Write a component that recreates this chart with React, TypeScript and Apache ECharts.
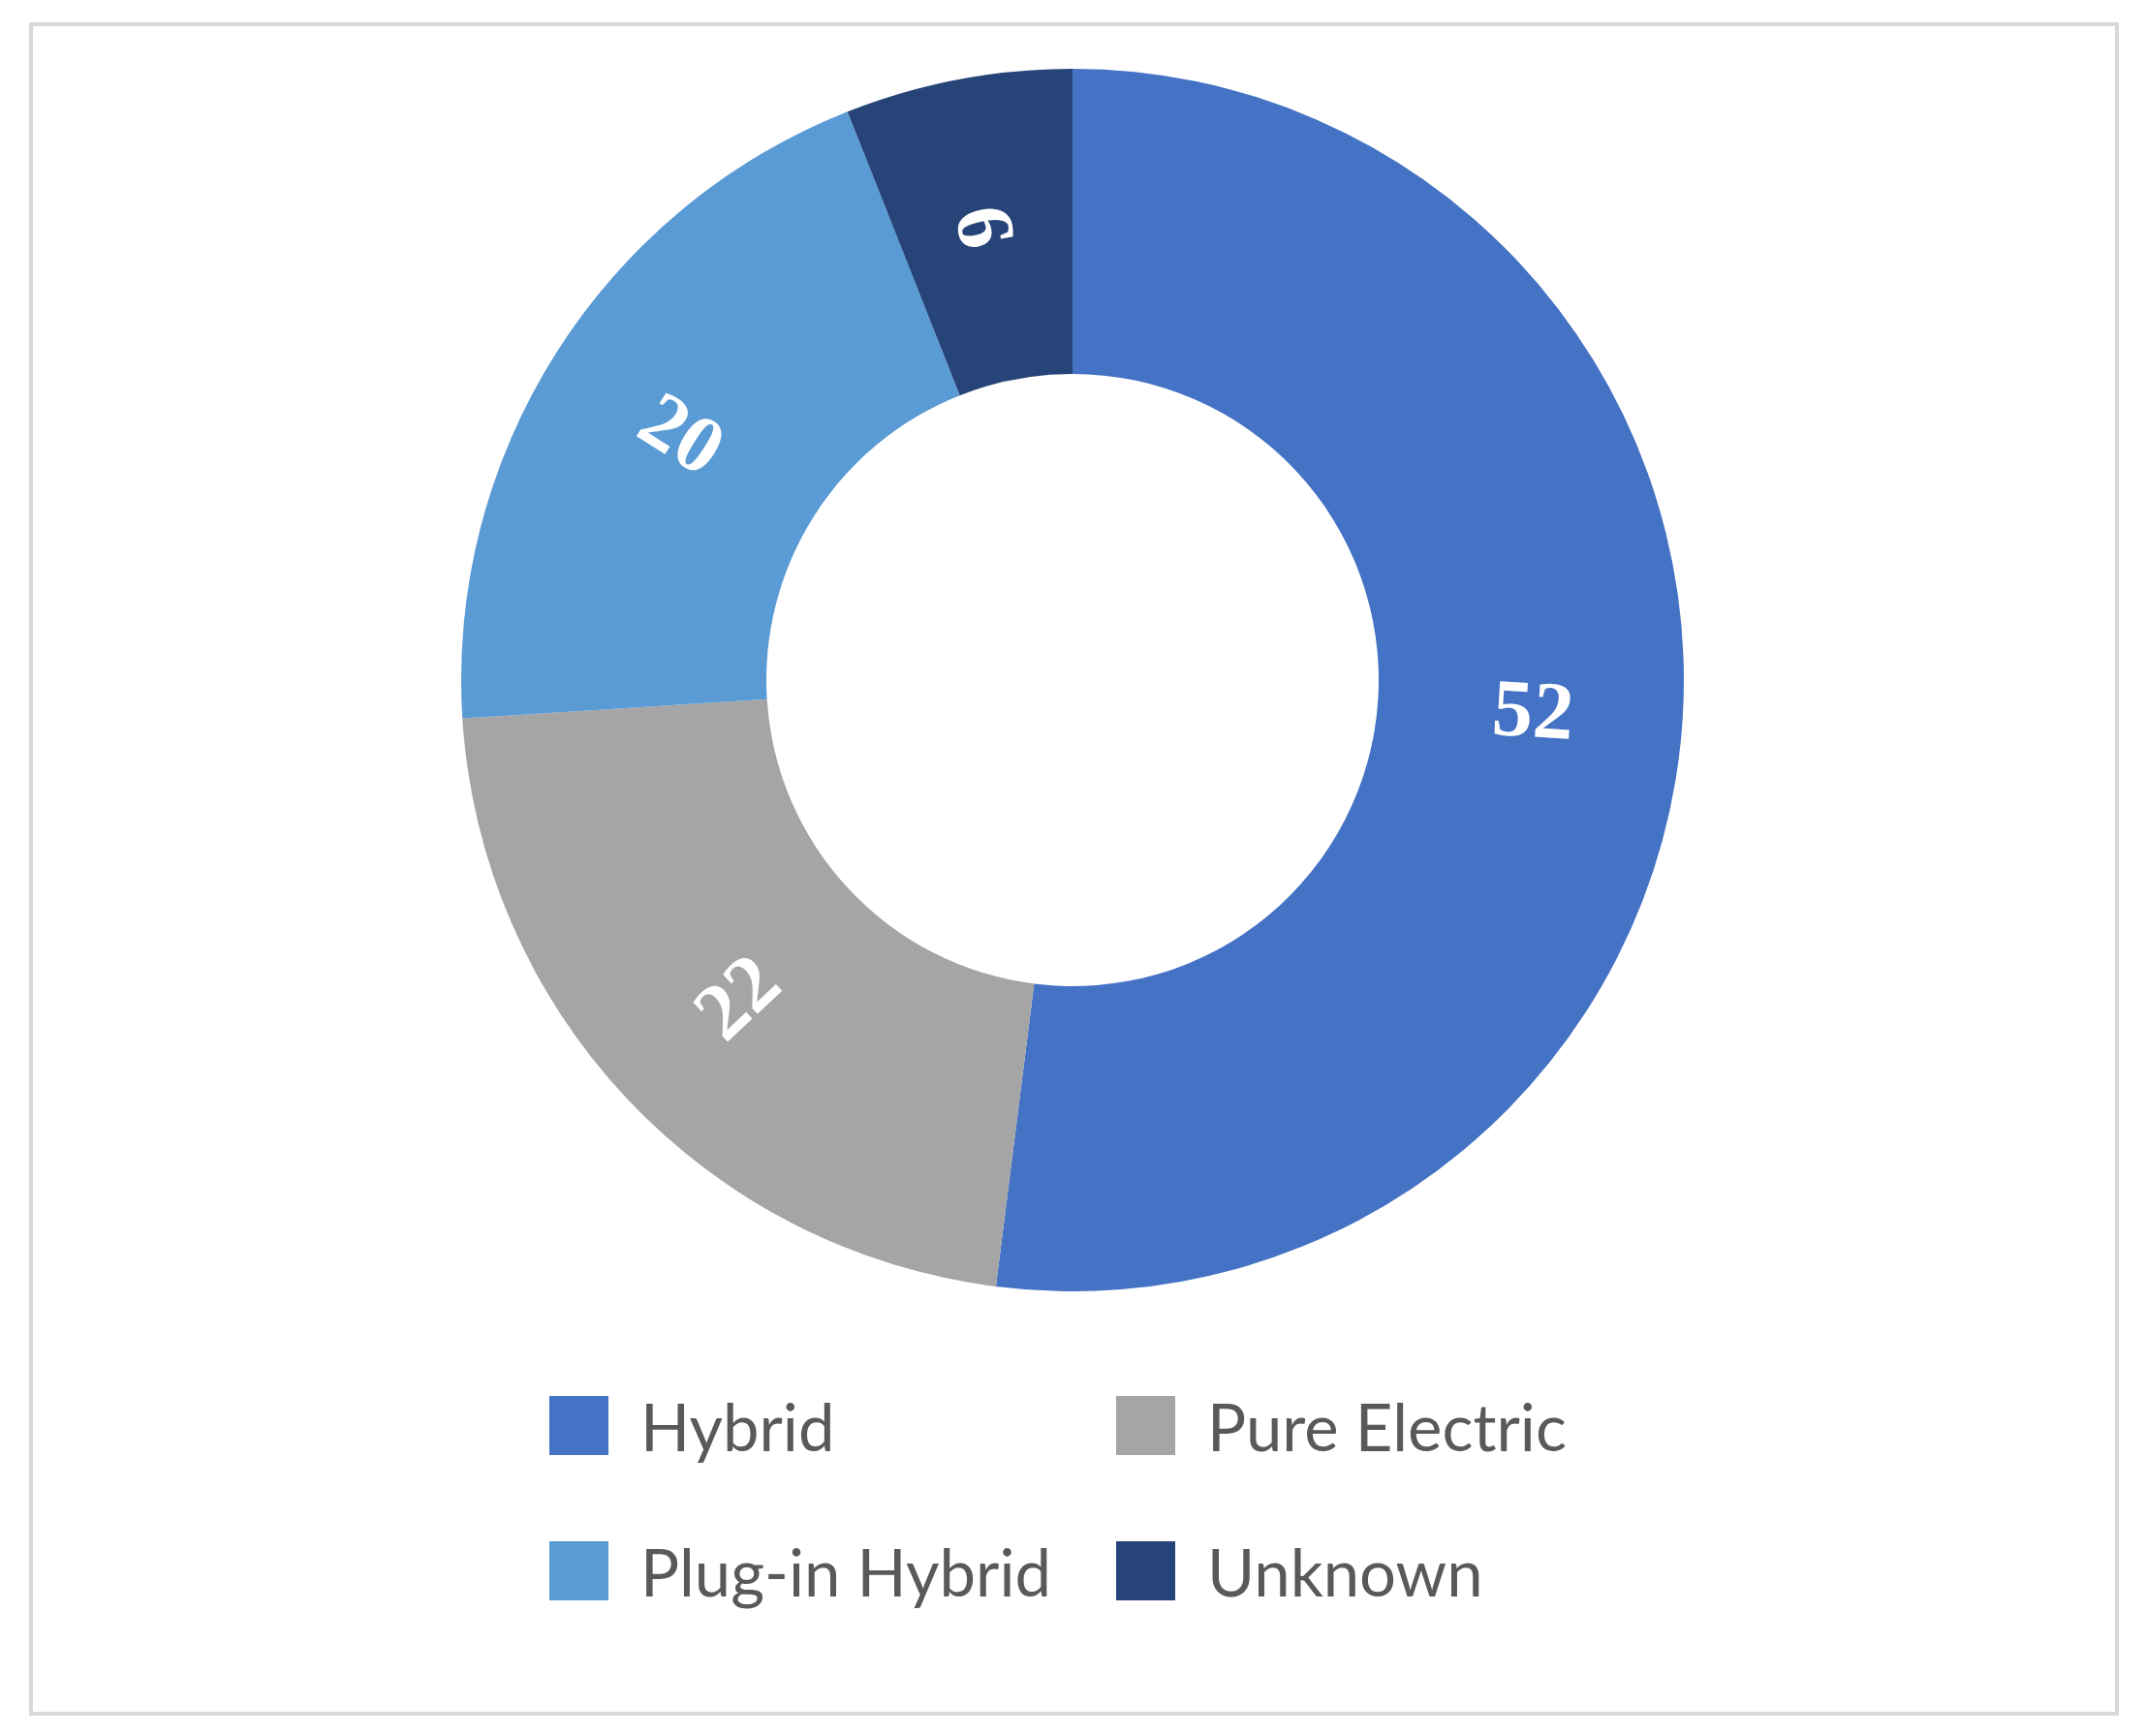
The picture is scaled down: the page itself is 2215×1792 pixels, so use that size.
import React, { useEffect, useRef } from "react";
import * as echarts from "echarts";

const categories = ["Hybrid", "Pure Electric", "Plug-in Hybrid", "Unknown"];
const values = [52, 22, 20, 6];
const colors = ["#4472C4", "#A5A5A5", "#5B9BD5", "#264478"];
const leftLegend = ["Hybrid", "Plug-in Hybrid"];
const rightLegend = ["Pure Electric", "Unknown"];

export default function App() {
  const ref = useRef<HTMLDivElement>(null);
  useEffect(() => {
    if (!ref.current) return;
    const chart = echarts.init(ref.current, null, { renderer: "svg" });
    const legendCommon = {
      orient: "vertical",
      top: 1433,
      itemWidth: 61,
      itemHeight: 61,
      itemGap: 83,
      icon: "rect",
      selectedMode: false,
      textStyle: {
        fontFamily: "Lato",
        fontSize: 67,
        color: "#595959",
        lineHeight: 61,
        padding: [0, 0, 0, 28],
      },
    };
    chart.setOption({
      animation: false,
      backgroundColor: "#ffffff",
      color: colors,
      graphic: [
        {
          type: "rect",
          shape: { x: 32, y: 25, width: 2153, height: 1744 },
          style: { fill: "none", stroke: "#D9D9D9", lineWidth: 4 },
          silent: true,
        },
      ],
      legend: [
        { ...legendCommon, left: 562, data: leftLegend },
        { ...legendCommon, left: 1147, data: rightLegend },
      ],
      series: [
        {
          type: "pie",
          center: [1107, 702],
          radius: [316, 631],
          startAngle: 90,
          clockwise: true,
          avoidLabelOverlap: false,
          label: {
            show: true,
            position: "inside",
            rotate: "radial",
            formatter: "{c}",
            color: "#ffffff",
            fontFamily: "Liberation Serif",
            fontWeight: 700,
            fontSize: 84,
          },
          labelLine: { show: false },
          emphasis: { disabled: true },
          data: categories.map((name, i) => ({ name, value: values[i] })),
        },
      ],
    });
    return () => chart.dispose();
  }, []);
  return (
    <div
      ref={ref}
      style={{ position: "fixed", left: 0, top: 0, width: 2215, height: 1792 }}
    />
  );
}
